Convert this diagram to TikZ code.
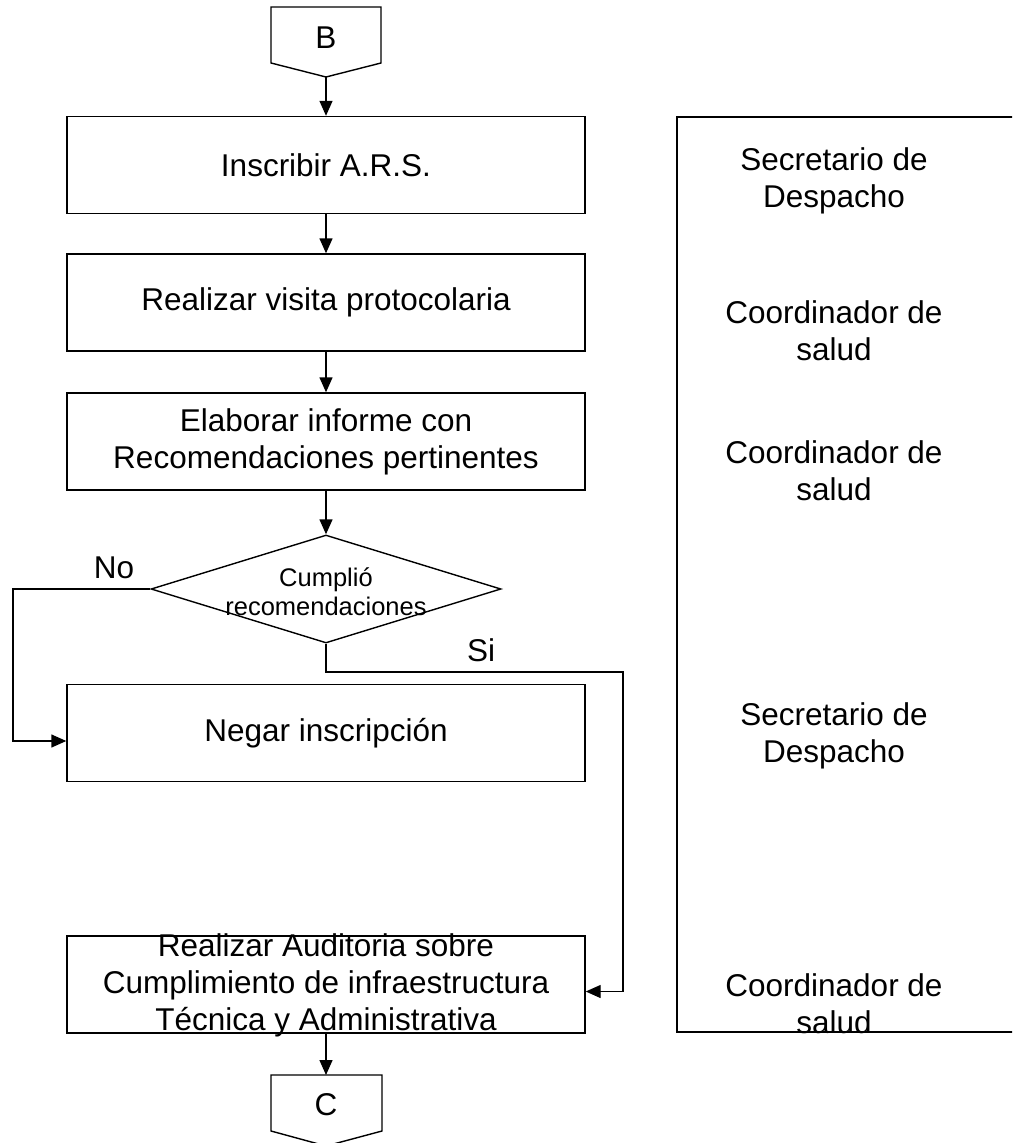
\documentclass[tikz,border=0pt]{standalone}
\usepackage{fontspec}
\setmainfont{Liberation Sans}
\usetikzlibrary{arrows.meta,shapes.geometric,calc}
\begin{document}
\begin{tikzpicture}[x=1pt,y=-1pt,
  line width=1.4pt,
  mainfont/.style={font=\fontsize{31.5}{37}\selectfont},
  smallfont/.style={font=\fontsize{25.5}{29}\selectfont},
  procbox/.style={draw, rectangle, minimum width=518pt, minimum height=97pt, inner sep=0pt},
  txt/.style={mainfont, align=center, inner sep=0pt},
  arr/.style={-{Triangle[length=15pt,width=13pt]}},
  decision/.style={draw, diamond, minimum width=350pt, minimum height=108pt, inner sep=0pt}
]
\clip (0,0) rectangle (1012,1143);
\fill[white] (0,0) rectangle (1012,1143);

% Off-page connector B
\draw (271,7) -- (381,7) -- (381,63) -- (326,77) -- (271,63) -- cycle;
\coordinate (Bp) at (326,77);
\node[txt] (B) at (326,38) {B};

% Process boxes
\node[procbox, txt] (b1) at (326,165) {Inscribir A.R.S.};
\node[procbox, txt] (b2) at (326,302.5) {Realizar visita protocolaria};
\node[procbox, txt] (b3) at (326,441.5) {Elaborar informe con\\Recomendaciones pertinentes};
\node[decision] (dia) at (326,589) {};
\node[smallfont, align=center, inner sep=0pt] (diat) at (326,592) {Cumplió\\recomendaciones};
\node[procbox, txt] (b4) at (326,733) {Negar inscripción};
\node[procbox] (b5) at (326,984.5) {};
\node[txt] (b5t) at (326,985) {Realizar Auditoria sobre\\Cumplimiento de infraestructura\\Técnica y Administrativa};

% Off-page connector C
\draw (271,1075) -- (382,1075) -- (382,1131) -- (326,1146) -- (271,1131) -- cycle;
\coordinate (Ctop) at (326,1075);
\node[txt] (C) at (326,1105) {C};

% Connectors
\draw[arr] (Bp) -- (b1.north);
\draw[arr] (b1.south) -- (b2.north);
\draw[arr] (b2.south) -- (b3.north);
\draw[arr] (b3.south) -- (dia.north);
\coordinate (noc) at (13,589);
\draw[arr] (dia.west) -- (noc) |- ($(b4.west)+(0,8)$);
\coordinate (sic) at (623,672);
\draw[arr] (dia.south) |- (sic) |- ($(b5.east)+(0,7)$);
\draw[arr] (b5.south) -- (Ctop);

\node[txt] (no) at (114,568) {No};
\node[txt] (si) at (481,650) {Si};

% Responsible column
\draw (1020,117) -- (677,117) -- (677,1032) -- (1020,1032);
\node[txt] (r1) at (834,181) {Secretario de\\Despacho};
\node[txt] (r2) at (834,331) {Coordinador de\\salud};
\node[txt] (r3) at (834,471) {Coordinador de\\salud};
\node[txt] (r4) at (834,736) {Secretario de\\Despacho};
\node[txt] (r5) at (834,1004) {Coordinador de\\salud};
\end{tikzpicture}
\end{document}
